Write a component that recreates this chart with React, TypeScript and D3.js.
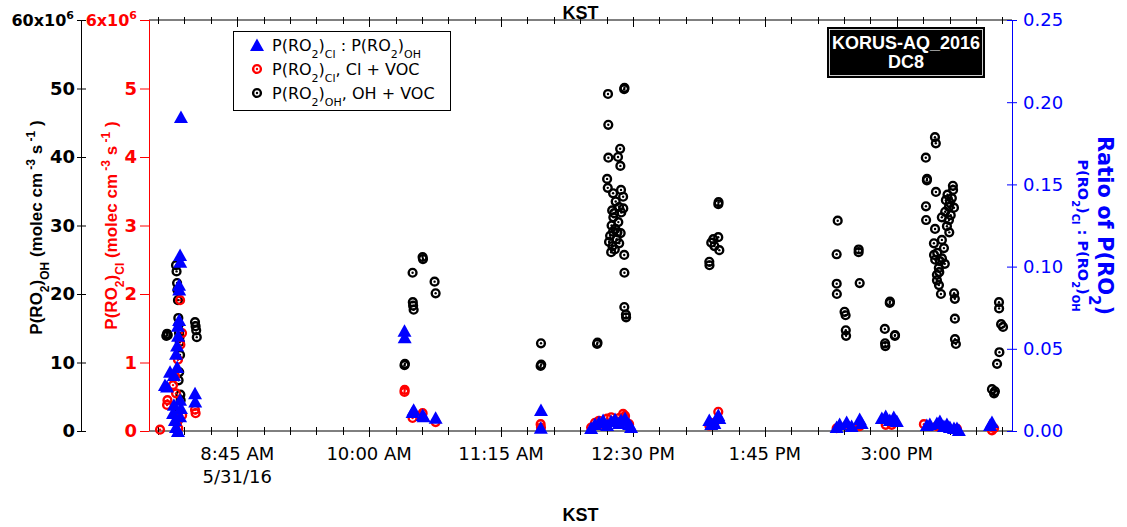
import React from "react";
import * as d3 from "d3";

// ---------- DATA ----------
// P(RO2)_OH, OH + VOC  (units of 1e6 molec cm-3 s-1)
const ohData: [string, number][] = [
  ["08:04:40", 13.9], ["08:05:06", 14.2], ["08:05:30", 14.0],
  ["08:10:12", 24.2], ["08:10:30", 23.3], ["08:10:48", 21.6], ["08:11:00", 20.6], ["08:11:18", 19.1],
  ["08:11:30", 16.5], ["08:11:40", 15.5], ["08:11:54", 14.3], ["08:12:10", 13.7], ["08:12:20", 13.0],
  ["08:12:30", 11.1], ["08:12:00", 8.6], ["08:11:40", 7.4], ["08:12:40", 5.3], ["08:12:50", 4.5],
  ["08:10:40", 2.5], ["08:11:10", 1.5],
  ["08:21:00", 15.9], ["08:21:20", 15.3], ["08:21:40", 14.7], ["08:22:00", 13.7],
  ["10:20:06", 9.6], ["10:20:20", 9.8], ["10:24:42", 23.1], ["10:24:50", 18.8], ["10:25:00", 18.3],
  ["10:25:18", 17.7], ["10:30:24", 25.4], ["10:30:36", 25.1], ["10:37:12", 21.8], ["10:37:48", 20.1],
  ["11:37:42", 12.8], ["11:37:30", 9.5], ["11:37:50", 9.7],
  ["12:09:36", 12.7], ["12:09:50", 12.9], ["12:15:18", 36.8], ["12:15:40", 35.5], ["12:15:48", 49.2],
  ["12:15:58", 44.7], ["12:16:00", 39.9], ["12:16:24", 27.6], ["12:17:00", 28.5], ["12:17:36", 26.1],
  ["12:17:50", 30.0], ["12:18:10", 32.2], ["12:18:20", 27.0], ["12:18:40", 29.1], ["12:18:42", 34.7],
  ["12:18:50", 31.2], ["12:19:18", 31.8], ["12:19:40", 26.5], ["12:20:00", 29.5], ["12:20:10", 33.5],
  ["12:20:40", 28.0], ["12:21:10", 29.0], ["12:21:30", 40.0], ["12:21:40", 30.5], ["12:22:06", 32.7],
  ["12:22:10", 27.4], ["12:22:42", 41.2], ["12:22:50", 38.7], ["12:23:00", 28.9], ["12:23:12", 35.2],
  ["12:23:20", 31.9], ["12:24:24", 34.2], ["12:24:30", 32.5], ["12:25:00", 49.9], ["12:25:10", 50.1],
  ["12:25:02", 25.7], ["12:25:08", 23.1], ["12:25:05", 18.1], ["12:26:00", 17.0], ["12:26:06", 16.6],
  ["13:13:24", 24.7], ["13:13:30", 24.2], ["13:14:30", 27.5], ["13:15:42", 28.0], ["13:16:18", 27.0],
  ["13:18:30", 28.3], ["13:19:06", 26.4], ["13:18:32", 33.1], ["13:18:40", 33.4],
  ["14:25:48", 25.8], ["14:25:50", 21.5], ["14:25:55", 20.0], ["14:26:24", 30.7], ["14:30:18", 17.4],
  ["14:30:54", 16.9], ["14:31:00", 14.7], ["14:31:10", 13.9], ["14:38:18", 26.1], ["14:38:20", 26.5],
  ["14:38:54", 21.6], ["14:53:12", 14.9], ["14:53:20", 12.8], ["14:53:30", 12.4], ["14:56:00", 18.7],
  ["14:56:06", 18.9], ["14:58:54", 13.9], ["14:59:00", 14.0],
  ["15:16:30", 39.9], ["15:16:35", 32.8], ["15:16:40", 30.8], ["15:17:06", 36.6], ["15:17:10", 36.8],
  ["15:21:06", 27.4], ["15:21:10", 25.7], ["15:21:42", 42.9], ["15:21:45", 29.5], ["15:21:50", 25.0],
  ["15:22:12", 42.0], ["15:22:15", 34.9], ["15:22:48", 22.8], ["15:22:50", 22.0], ["15:23:00", 26.0],
  ["15:23:54", 23.8], ["15:23:58", 21.3], ["15:24:30", 24.8], ["15:24:10", 23.2], ["15:25:06", 20.0],
  ["15:25:36", 31.2], ["15:25:38", 27.9], ["15:25:40", 25.2], ["15:26:48", 26.7], ["15:27:18", 24.4],
  ["15:27:54", 33.7], ["15:27:30", 32.0], ["15:28:30", 29.9], ["15:28:50", 34.5], ["15:29:36", 32.7],
  ["15:29:40", 30.8], ["15:29:50", 29.0], ["15:30:12", 33.3], ["15:30:40", 31.5], ["15:31:18", 34.0],
  ["15:31:54", 35.8], ["15:32:00", 35.2], ["15:32:30", 32.6], ["15:32:35", 20.1], ["15:33:00", 19.3],
  ["15:33:02", 16.4], ["15:33:05", 13.4], ["15:33:36", 12.7],
  ["15:54:06", 6.1], ["15:55:18", 5.5], ["15:55:48", 5.8], ["15:57:00", 9.8], ["15:58:06", 18.8],
  ["15:58:10", 17.9], ["15:58:20", 11.5], ["15:59:18", 15.6], ["16:00:24", 15.2],
];

// P(RO2)_Cl, Cl + VOC (units of 1e6 molec cm-3 s-1)
const clData: [string, number][] = [
  ["08:01:06", 0.02], ["08:05:06", 0.38], ["08:05:20", 0.45], ["08:08:30", 0.67], ["08:09:36", 0.8],
  ["08:10:12", 0.55], ["08:10:48", 0.12], ["08:11:18", 1.04], ["08:11:30", 0.04], ["08:12:30", 1.91],
  ["08:12:40", 1.26], ["08:13:36", 1.43], ["08:13:40", 0.23], ["08:21:00", 0.31], ["08:21:20", 0.26],
  ["10:20:06", 0.57], ["10:20:12", 0.6], ["10:24:42", 0.19], ["10:29:18", 0.22], ["10:30:24", 0.26],
  ["10:37:48", 0.13],
  ["11:37:30", 0.1], ["11:37:42", 0.05],
  ["12:06:12", 0.05], ["12:08:24", 0.12], ["12:10:42", 0.15], ["12:13:00", 0.1], ["12:15:18", 0.18],
  ["12:17:36", 0.2], ["12:19:48", 0.15], ["12:22:06", 0.19], ["12:24:24", 0.25], ["12:25:30", 0.22],
  ["12:27:48", 0.1],
  ["13:13:24", 0.08], ["13:16:18", 0.12], ["13:18:30", 0.28],
  ["14:25:48", 0.04], ["14:31:30", 0.08], ["14:38:54", 0.07], ["14:53:42", 0.09], ["14:57:06", 0.09],
  ["15:15:24", 0.1], ["15:22:48", 0.07], ["15:28:30", 0.05], ["15:34:12", 0.03],
  ["15:54:06", 0.01], ["15:55:18", 0.04],
];

// Ratio P(RO2)_Cl : P(RO2)_OH
const ratioData: [string, number][] = [
  ["08:13:00", 0.191], ["08:12:30", 0.107], ["08:12:36", 0.103], ["08:11:54", 0.089], ["08:12:00", 0.086],
  ["08:11:58", 0.0675], ["08:11:18", 0.064], ["08:11:22", 0.058], ["08:10:48", 0.052], ["08:10:12", 0.047],
  ["08:10:50", 0.039], ["08:09:00", 0.034], ["08:06:48", 0.036], ["08:05:06", 0.027], ["08:03:54", 0.028],
  ["08:21:00", 0.023], ["08:21:06", 0.018], ["08:12:30", 0.019], ["08:08:30", 0.011], ["08:09:36", 0.0067],
  ["08:10:12", 0.0025], ["08:11:18", 0.0], ["08:12:30", 0.009], ["08:13:00", 0.014], ["08:09:00", 0.016],
  ["10:20:06", 0.061], ["10:20:12", 0.057], ["10:24:42", 0.0115], ["10:25:18", 0.013], ["10:30:24", 0.0097],
  ["10:31:00", 0.009], ["10:37:48", 0.008],
  ["11:37:42", 0.0128], ["11:37:36", 0.002],
  ["12:06:12", 0.0018], ["12:08:24", 0.0043], ["12:10:42", 0.0055], ["12:13:00", 0.0067], ["12:15:18", 0.0037],
  ["12:17:36", 0.0061], ["12:19:48", 0.0073], ["12:22:06", 0.0049], ["12:23:12", 0.0067], ["12:25:30", 0.0079],
  ["12:27:48", 0.0043], ["12:28:54", 0.0024],
  ["13:13:24", 0.0067], ["13:14:30", 0.0043], ["13:16:18", 0.0049], ["13:18:30", 0.0097], ["13:19:06", 0.0079],
  ["14:25:48", 0.0024], ["14:27:30", 0.0043], ["14:31:30", 0.0055], ["14:34:18", 0.003], ["14:38:54", 0.0073],
  ["14:40:00", 0.0049], ["14:51:30", 0.0079], ["14:53:42", 0.0091], ["14:56:00", 0.0067], ["14:58:18", 0.0085],
  ["15:00:00", 0.0061],
  ["15:17:06", 0.0037], ["15:18:48", 0.0043], ["15:22:48", 0.0049], ["15:24:30", 0.0061], ["15:26:48", 0.003],
  ["15:28:30", 0.0043], ["15:30:12", 0.0024], ["15:32:30", 0.0018], ["15:34:12", 0.0018], ["15:35:18", 0.0006],
  ["15:53:00", 0.0037], ["15:54:06", 0.0055],
];

const xDomain = ["07:54:50", "16:05:30"];
const labelTicks = ["08:45:00", "10:00:00", "11:15:00", "12:30:00", "13:45:00", "15:00:00"];
const ohTicks = [0, 10, 20, 30, 40, 50, 60];
const clTicks = [0, 1, 2, 3, 4, 5, 6];
const ratioTicks = [0, 0.05, 0.1, 0.15, 0.2, 0.25];
const dateLabel = "5/31/16";

// ---------- LAYOUT ----------
const W = 1127, H = 527;
const L = 149, R = 1012, T = 20, B = 431;
const BLUE = "#0000ff", RED = "#ff0000";

const parse = d3.timeParse("%Y-%m-%d %H:%M:%S");
const toDate = (t: string) => parse("2016-05-31 " + t) as Date;

const x = d3.scaleTime().domain(xDomain.map(toDate)).range([L, R]);
const yOH = d3.scaleLinear().domain([0, 60]).range([B, T]);
const yCl = d3.scaleLinear().domain([0, 6]).range([B, T]);
const yRatio = d3.scaleLinear().domain([0, 0.25]).range([B, T]);

const fmt = d3.timeFormat("%-I:%M %p");
const minorTicks = x.ticks(d3.timeMinute.every(15) as any);
const majorSet = new Set(labelTicks.map((t) => +toDate(t)));

const triPath = "M0,-6.5L7,6L-7,6Z";

const Circ = ({ cx, cy, color }: { cx: number; cy: number; color: string }) => (
  <g>
    <circle cx={cx} cy={cy} r={3.9} fill="none" stroke={color} strokeWidth={2.4} />
    <circle cx={cx} cy={cy} r={1.2} fill={color} />
  </g>
);

const SANS = "DejaVu Sans, Verdana, sans-serif";
const ARIAL = "Liberation Sans, Arial, sans-serif";

export default function App() {
  return (
    <svg
      width={W}
      height={H}
      style={{ position: "absolute", left: 0, top: 0, display: "block", background: "#fff" }}
    >
      {/* top axis */}
      <line x1={L} x2={R} y1={T} y2={T} stroke="#000" strokeWidth={1} />
      {minorTicks.map((d, i) => {
        const xx = Math.round(x(d)) + 0.5;
        const maj = majorSet.has(+d);
        return <line key={"tt" + i} x1={xx} x2={xx} y1={T - 3} y2={maj ? T + 7 : T + 4} stroke="#000" />;
      })}
      {/* bottom axis */}
      <line x1={L} x2={R} y1={B} y2={B} stroke="#000" strokeWidth={1} />
      {minorTicks.map((d, i) => {
        const xx = Math.round(x(d)) + 0.5;
        const maj = majorSet.has(+d);
        return <line key={"bt" + i} x1={xx} x2={xx} y1={B - 4} y2={maj ? B + 6 : B + 4} stroke="#000" />;
      })}
      {labelTicks.map((t, i) => (
        <text key={"bl" + i} x={x(toDate(t))} y={460} textAnchor="middle" fontFamily={SANS} fontSize={18} fill="#000">
          {fmt(toDate(t))}
        </text>
      ))}
      <text x={x(toDate(labelTicks[0]))} y={483} textAnchor="middle" fontFamily={SANS} fontSize={18} fill="#000">
        {dateLabel}
      </text>
      <text x={(L + R) / 2} y={19} textAnchor="middle" fontFamily={ARIAL} fontWeight="bold" fontSize={18}>KST</text>
      <text x={(L + R) / 2} y={521} textAnchor="middle" fontFamily={ARIAL} fontWeight="bold" fontSize={18}>KST</text>

      {/* left black axis */}
      <line x1={81.5} x2={81.5} y1={T} y2={B} stroke="#000" />
      {ohTicks.map((v) => (
        <g key={"oh" + v}>
          <line x1={77} x2={86} y1={yOH(v) + 0.5} y2={yOH(v) + 0.5} stroke="#000" />
          {v < 60 ? (
            <text x={75} y={yOH(v)} dy="0.36em" textAnchor="end" fontFamily={SANS} fontWeight="bold" fontSize={18}>{v}</text>
          ) : (
            <text x={74} y={yOH(v)} dy="0.36em" textAnchor="end" fontFamily={SANS} fontWeight="bold" fontSize={16}>
              60x10<tspan fontSize={11} dy="-7">6</tspan>
            </text>
          )}
        </g>
      ))}
      <text
        transform={`translate(42,${(T + B) / 2 + 2}) rotate(-90)`}
        textAnchor="middle" fontFamily={ARIAL} fontWeight="bold" fontSize={17} fill="#000"
      >
        P(RO<tspan baselineShift="sub" fontSize={12}>2</tspan>)<tspan baselineShift="sub" fontSize={12}>OH</tspan> (molec cm
        <tspan baselineShift="super" fontSize={12}> -3</tspan> s<tspan baselineShift="super" fontSize={12}> -1</tspan> )
      </text>

      {/* red axis */}
      <line x1={L + 0.5} x2={L + 0.5} y1={T} y2={B} stroke={RED} />
      {clTicks.map((v) => (
        <g key={"cl" + v}>
          <line x1={140} x2={L} y1={yCl(v) + 0.5} y2={yCl(v) + 0.5} stroke={RED} />
          {v < 6 ? (
            <text x={137} y={yCl(v)} dy="0.36em" textAnchor="end" fontFamily={SANS} fontWeight="bold" fontSize={18} fill={RED}>{v}</text>
          ) : (
            <text x={137} y={yCl(v)} dy="0.36em" textAnchor="end" fontFamily={SANS} fontWeight="bold" fontSize={16} fill={RED}>
              6x10<tspan fontSize={11} dy="-7">6</tspan>
            </text>
          )}
        </g>
      ))}
      <text
        transform={`translate(117,${(T + B) / 2}) rotate(-90)`}
        textAnchor="middle" fontFamily={ARIAL} fontWeight="bold" fontSize={17} fill={RED}
      >
        P(RO<tspan baselineShift="sub" fontSize={12}>2</tspan>)<tspan baselineShift="sub" fontSize={12}>Cl</tspan> (molec cm
        <tspan baselineShift="super" fontSize={12}> -3</tspan> s<tspan baselineShift="super" fontSize={12}> -1</tspan> )
      </text>

      {/* right blue axis */}
      <line x1={R + 0.5} x2={R + 0.5} y1={T} y2={B} stroke={BLUE} />
      {ratioTicks.map((v) => (
        <g key={"r" + v}>
          <line x1={1007} x2={1017} y1={yRatio(v) + 0.5} y2={yRatio(v) + 0.5} stroke={BLUE} />
          <text x={1023} y={yRatio(v)} dy="0.36em" fontFamily={SANS} fontSize={18} fill={BLUE}>{v.toFixed(2)}</text>
        </g>
      ))}
      <text
        transform={`translate(1098,${(T + B) / 2}) rotate(90)`}
        textAnchor="middle" fontFamily={SANS} fontWeight="bold" fontSize={21} fill={BLUE}
      >
        Ratio of P(RO<tspan baselineShift="sub" fontSize={15}>2</tspan>)
      </text>
      <text
        transform={`translate(1078,${(T + B) / 2 + 10}) rotate(90)`}
        textAnchor="middle" fontFamily={SANS} fontWeight="bold" fontSize={14.5} fill={BLUE}
      >
        P(RO<tspan baselineShift="sub" fontSize={10}>2</tspan>)<tspan baselineShift="sub" fontSize={10}>Cl</tspan> : P(RO
        <tspan baselineShift="sub" fontSize={10}>2</tspan>)<tspan baselineShift="sub" fontSize={10}>OH</tspan>
      </text>

      {/* data */}
      <g>
        {ohData.map(([t, v], i) => (
          <Circ key={"o" + i} cx={x(toDate(t))} cy={yOH(v)} color="#000" />
        ))}
      </g>
      <g>
        {clData.map(([t, v], i) => (
          <Circ key={"c" + i} cx={x(toDate(t))} cy={yCl(v)} color={RED} />
        ))}
      </g>
      <g>
        {ratioData.map(([t, v], i) => (
          <path key={"t" + i} d={triPath} transform={`translate(${x(toDate(t))},${yRatio(v)})`} fill={BLUE} />
        ))}
      </g>

      {/* legend */}
      <rect x={233.5} y={31.5} width={217} height={79} fill="#fff" stroke="#000" strokeWidth={1} />
      <path d={triPath} transform="translate(257,45)" fill={BLUE} />
      <Circ cx={257} cy={69} color={RED} />
      <Circ cx={257} cy={93} color="#000" />
      <text x={272} y={51} fontFamily={SANS} fontSize={16}>
        P(RO<tspan baselineShift="sub" fontSize={11}>2</tspan>)<tspan baselineShift="sub" fontSize={11}>Cl</tspan> : P(RO
        <tspan baselineShift="sub" fontSize={11}>2</tspan>)<tspan baselineShift="sub" fontSize={11}>OH</tspan>
      </text>
      <text x={272} y={75} fontFamily={SANS} fontSize={16}>
        P(RO<tspan baselineShift="sub" fontSize={11}>2</tspan>)<tspan baselineShift="sub" fontSize={11}>Cl</tspan>, Cl + VOC
      </text>
      <text x={272} y={99} fontFamily={SANS} fontSize={16}>
        P(RO<tspan baselineShift="sub" fontSize={11}>2</tspan>)<tspan baselineShift="sub" fontSize={11}>OH</tspan>, OH + VOC
      </text>

      {/* title box */}
      <rect x={827} y={27} width={158} height={51} fill="#000" />
      <rect x={829.5} y={29.5} width={153} height={46} fill="none" stroke="#fff" strokeWidth={0.8} />
      <text x={906} y={49} textAnchor="middle" fontFamily={ARIAL} fontWeight="bold" fontSize={18} fill="#fff">KORUS-AQ_2016</text>
      <text x={906} y={68} textAnchor="middle" fontFamily={ARIAL} fontWeight="bold" fontSize={18} fill="#fff">DC8</text>
    </svg>
  );
}
